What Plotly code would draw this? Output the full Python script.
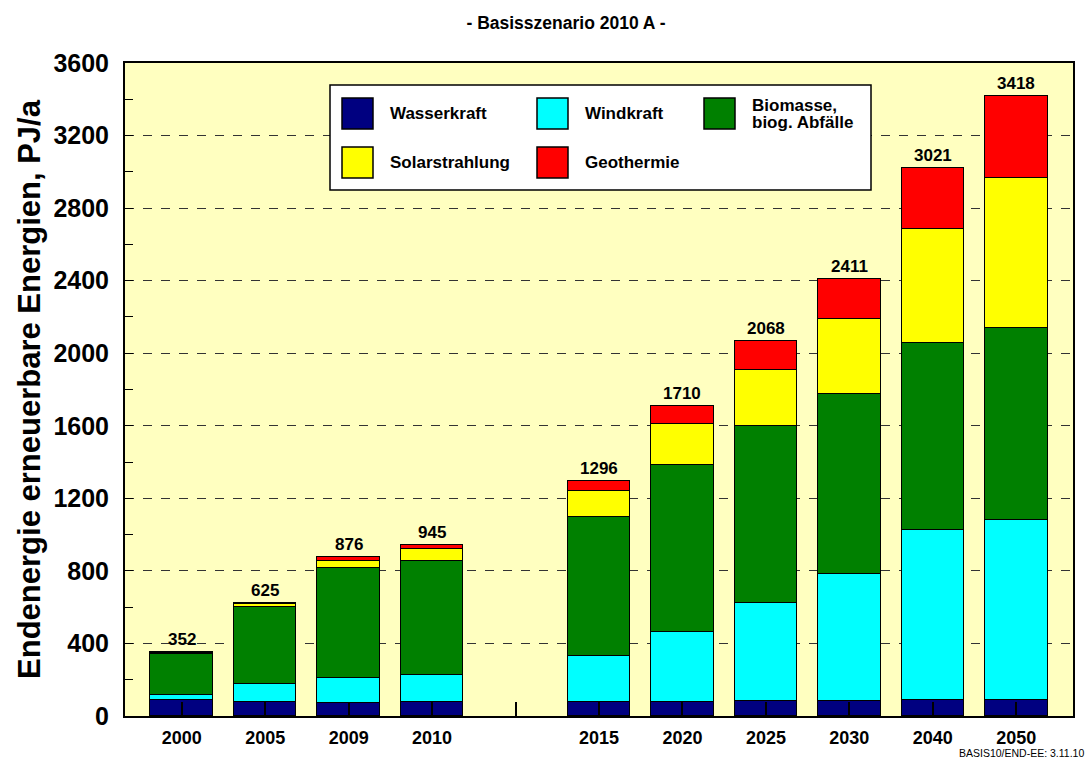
import plotly.graph_objects as go

# Final energy from renewable sources, PJ/a (base scenario 2010 A)
years = ["2000", "2005", "2009", "2010", "2015", "2020", "2025", "2030", "2040", "2050"]
wasserkraft = [90, 79, 72, 75, 75, 79, 81, 84, 87, 90]
windkraft = [27, 97, 136, 149, 254, 384, 544, 701, 938, 991]
biomasse = [225, 423, 610, 632, 768, 919, 974, 992, 1033, 1058]
solarstrahlung = [8, 16, 38, 65, 143, 228, 308, 413, 627, 825]
geothermie = [2, 10, 20, 24, 56, 100, 161, 221, 336, 454]

series = [
    ("Wasserkraft", wasserkraft, "#000080"),
    ("Windkraft", windkraft, "#00FFFF"),
    ("Biomasse, biog. Abfälle", biomasse, "#008000"),
    ("Solarstrahlung", solarstrahlung, "#FFFF00"),
    ("Geothermie", geothermie, "#FF0000"),
]

# historic years and scenario years are separated by one empty slot
GAP_AFTER = 4
slots = [i + (1 if i >= GAP_AFTER else 0) for i in range(len(years))]
tick_slots = list(range(len(years) + 1))
tick_text = []
for s in tick_slots:
    tick_text.append(years[slots.index(s)] if s in slots else "")

totals = [sum(v) for v in zip(*[s[1] for s in series])]

FONT = "Liberation Sans, Arial, sans-serif"
W, H = 1085, 760
ML, MR, MT, MB = 125, 12, 63, 44
PW, PH = W - ML - MR, H - MT - MB


def px_x(px):
    return (px - ML) / PW


def px_y(py):
    return (H - MB - py) / PH


fig = go.Figure()
for name, vals, color in series:
    fig.add_trace(go.Bar(
        x=slots, y=vals, name=name, width=0.75,
        marker=dict(color=color, line=dict(color="black", width=1.5)),
        showlegend=False,
        hovertemplate=name + ": %{y} PJ/a<extra></extra>",
    ))

annotations = []
for s, t in zip(slots, totals):
    annotations.append(dict(
        x=s, y=t, xref="x", yref="y", text=str(t), showarrow=False,
        yanchor="bottom", yshift=1,
        font=dict(family=FONT, size=17, color="black", weight="bold"),
    ))

# legend box with large colour squares
shapes = [dict(
    type="rect", xref="paper", yref="paper",
    x0=px_x(330), x1=px_x(871), y0=px_y(190), y1=px_y(85),
    fillcolor="white", line=dict(color="black", width=1.5), layer="above",
)]
legend_pos = [(342, 98), (537, 98), (704, 98), (342, 147), (537, 147)]
SQ = 31
for (name, vals, color), (lx, ly) in zip(series, legend_pos):
    shapes.append(dict(
        type="rect", xref="paper", yref="paper",
        x0=px_x(lx), x1=px_x(lx + SQ), y0=px_y(ly + SQ), y1=px_y(ly),
        fillcolor=color, line=dict(color="black", width=1.5), layer="above",
    ))
    lines = ["Biomasse,", "biog. Abfälle"] if name.startswith("Biomasse") else [name]
    cy = ly + SQ / 2
    offsets = [-8.5, 8.5] if len(lines) == 2 else [0]
    for line, off in zip(lines, offsets):
        annotations.append(dict(
            x=px_x(lx + 46), y=px_y(cy + off), xref="paper", yref="paper",
            text=line, showarrow=False, xanchor="left", yanchor="middle",
            font=dict(family=FONT, size=17, color="black", weight="bold"),
        ))

annotations.append(dict(
    x=px_x(1085), y=px_y(753.5), xref="paper", yref="paper",
    text="BASIS10/END-EE: 3.11.10", showarrow=False,
    xanchor="right", yanchor="middle", borderpad=0,
    font=dict(family=FONT, size=10.5, color="black"),
))

fig.update_layout(
    width=W, height=H,
    margin=dict(l=ML, r=MR, t=MT, b=MB, autoexpand=False),
    paper_bgcolor="white",
    plot_bgcolor="#FFFFC0",
    barmode="stack",
    bargap=0,
    title=dict(
        text="- Basisszenario 2010 A -", x=px_x(566), xref="paper", xanchor="center",
        y=1 - 23 / H, yanchor="middle",
        font=dict(family=FONT, size=17.5, color="black", weight="bold"),
    ),
    xaxis=dict(
        range=[-0.68, 10.68], tickmode="array", tickvals=tick_slots, ticktext=tick_text,
        ticks="inside", ticklen=14, tickwidth=1.5, tickcolor="black",
        showgrid=False, zeroline=False,
        showline=True, linecolor="black", linewidth=2, mirror=True,
        tickfont=dict(family=FONT, size=18, color="black", weight="bold"),
        ticklabelstandoff=4,
    ),
    yaxis=dict(
        range=[0, 3600], tickmode="linear", tick0=0, dtick=400,
        ticks="inside", ticklen=8, tickwidth=1, tickcolor="black",
        minor=dict(dtick=200, ticks="inside", ticklen=8, tickwidth=1, tickcolor="black", showgrid=False),
        showgrid=True, gridcolor="#333333", gridwidth=1, griddash="dash",
        zeroline=False,
        showline=True, linecolor="black", linewidth=2, mirror=True,
        tickfont=dict(family=FONT, size=25, color="black", weight="bold"),
        ticklabelstandoff=9,
        title=dict(
            text="Endenergie erneuerbare Energien, PJ/a", standoff=4,
            font=dict(family=FONT, size=31, color="black", weight="bold"),
        ),
    ),
    shapes=shapes,
    annotations=annotations,
)

fig.write_html("out.html")
